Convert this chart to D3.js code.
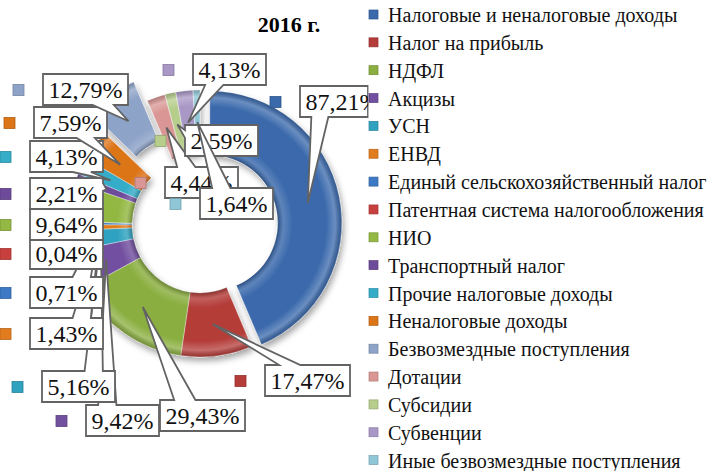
<!DOCTYPE html>
<html>
<head>
<meta charset="utf-8">
<script src="https://cdn.jsdelivr.net/npm/d3@7/dist/d3.min.js"></script>
<style>
body { margin: 0; background: #fff; }
svg { display: block; }
text { font-family: "Liberation Serif", "DejaVu Serif", serif; }
</style>
</head>
<body>
<script>
// данные 2016 г. (доли в %)
var categories = [
    "Налоговые и неналоговые доходы",
    "Налог на прибыль",
    "НДФЛ",
    "Акцизы",
    "УСН",
    "ЕНВД",
    "Единый сельскохозяйственный налог",
    "Патентная система налогообложения",
    "НИО",
    "Транспортный налог",
    "Прочие налоговые доходы",
    "Неналоговые доходы",
    "Безвозмездные поступления",
    "Дотации",
    "Субсидии",
    "Субвенции",
    "Иные безвозмездные поступления"
];
var values = [87.21, 17.47, 29.43, 9.42, 5.16, 1.43, 0.71, 0.04, 9.64, 2.21, 4.13, 7.59, 12.79, 4.44, 2.59, 4.13, 1.64];
var colors = [
    "#3a69ac", "#b43c39", "#8aae3f", "#7250a0", "#2fa2c0", "#e27d1f",
    "#3d79c4", "#c8403d", "#93b843", "#6e4b9a", "#35adc9", "#dc7418",
    "#8ea3c8", "#d99694", "#b6cd8b", "#a998c6", "#8fc7d7"
];
var title = "2016 г.";

var width = 710, height = 471;
var cx = 200, cy = 225, rOut = 132, rIn = 68;
var FONT = "Liberation Serif";

// вынос секторов (px) и положение подписей (левый верхний угол рамки)
var explode = {0: 10, 12: 26, 13: 3, 14: 3, 15: 3, 16: 3};
var labelPos = [
    [300, 86], [265, 365], [160, 400], [86, 405], [42, 371], [30, 318],
    [30, 277], [30, 238], [30, 209], [30, 178], [30, 141], [34, 107],
    [43, 74], [165, 167], [185, 125], [193, 54], [200, 188]
];
var labelW = {0: 68};

var fmt = function(v) { return d3.format(".2f")(v).replace(".", ",") + "%"; };

var data = categories.map(function(c, i) {
    return {name: c, value: values[i], color: colors[i], i: i};
});

var svg = d3.select("body").append("svg")
    .attr("width", width)
    .attr("height", height);

var defs = svg.append("defs");
var shadow = defs.append("filter").attr("id", "shadow")
    .attr("x", "-20%").attr("y", "-20%").attr("width", "140%").attr("height", "140%");
shadow.append("feDropShadow")
    .attr("dx", 2).attr("dy", 4).attr("stdDeviation", 3)
    .attr("flood-color", "#000").attr("flood-opacity", 0.35);

var bevel = defs.append("radialGradient").attr("id", "bevel")
    .attr("gradientUnits", "userSpaceOnUse")
    .attr("cx", 0).attr("cy", 0).attr("r", rOut);
[[rIn / rOut, "#000", 0.25], [0.56, "#fff", 0.18], [0.63, "#fff", 0],
 [0.88, "#fff", 0], [0.95, "#fff", 0.25], [1, "#000", 0.18]].forEach(function(s) {
    bevel.append("stop").attr("offset", s[0]).attr("stop-color", s[1]).attr("stop-opacity", s[2]);
});

var pie = d3.pie().sort(null).value(function(d) { return d.value; });
var arc = d3.arc().innerRadius(rIn).outerRadius(rOut);
var arcs = pie(data);

function offset(a) {
    var e = explode[a.data.i] || 0;
    var m = (a.startAngle + a.endAngle) / 2;
    return [e * Math.sin(m), -e * Math.cos(m)];
}

var donut = svg.append("g")
    .attr("transform", "translate(" + cx + "," + cy + ")")
    .attr("filter", "url(#shadow)");

var slice = donut.selectAll(".slice")
    .data(arcs)
    .enter().append("g")
    .attr("class", "slice")
    .attr("transform", function(a) { var o = offset(a); return "translate(" + o[0] + "," + o[1] + ")"; });

slice.append("path")
    .attr("d", arc)
    .attr("fill", function(a) { return a.data.color; })
    .attr("stroke", "rgba(255,255,255,0.45)")
    .attr("stroke-width", 0.8);
slice.append("path")
    .attr("d", arc)
    .attr("fill", "url(#bevel)");

// title
svg.append("text")
    .attr("x", 289).attr("y", 32)
    .attr("text-anchor", "middle")
    .attr("font-family", FONT)
    .style("font-size", "22px").style("font-weight", "bold")
    .text(title);

// callout path: rectangle with wedge toward the tip (like Office wedgeRectCallout)
function callout(x, y, w, h, tx, ty) {
    var dx = tx - (x + w / 2), dy = ty - (y + h / 2);
    var inside = tx >= x && tx <= x + w && ty >= y && ty <= y + h;
    if (inside) return "M" + x + "," + y + "h" + w + "v" + h + "h" + (-w) + "Z";
    var p;
    if (Math.abs(dx) * h > Math.abs(dy) * w) {
        var b1 = dy < 0 ? y + h * 2 / 12 : y + h * 7 / 12;
        var b2 = dy < 0 ? y + h * 5 / 12 : y + h * 10 / 12;
        if (dx < 0) {
            p = [[x, y], [x + w, y], [x + w, y + h], [x, y + h], [x, b2], [tx, ty], [x, b1]];
        } else {
            p = [[x, y], [x + w, y], [x + w, b1], [tx, ty], [x + w, b2], [x + w, y + h], [x, y + h]];
        }
    } else {
        var a1 = dx < 0 ? x + w * 2 / 12 : x + w * 7 / 12;
        var a2 = dx < 0 ? x + w * 5 / 12 : x + w * 10 / 12;
        if (dy < 0) {
            p = [[x, y], [a1, y], [tx, ty], [a2, y], [x + w, y], [x + w, y + h], [x, y + h]];
        } else {
            p = [[x, y], [x + w, y], [x + w, y + h], [a2, y + h], [tx, ty], [a1, y + h], [x, y + h]];
        }
    }
    return "M" + p.map(function(q) { return q[0] + "," + q[1]; }).join("L") + "Z";
}

var labels = svg.append("g");
var boxH = 31;
arcs.forEach(function(a) {
    var i = a.data.i;
    var c = arc.centroid(a), o = offset(a);
    var tx = cx + c[0] + o[0], ty = cy + c[1] + o[1];
    var bx = labelPos[i][0], by = labelPos[i][1];
    var g = labels.append("g");
    var path = g.append("path")
        .attr("fill", "#fff")
        .attr("stroke", "#636363")
        .attr("stroke-width", 1.8)
        .attr("stroke-linejoin", "miter");
    var t = g.append("text")
        .attr("y", by + boxH / 2 + 8)
        .attr("font-family", FONT)
        .style("font-size", "24px")
        .attr("fill", "#111")
        .text(fmt(a.data.value));
    var bw = labelW[i] || Math.round(t.node().getComputedTextLength() + 11);
    t.attr("x", bx + 5.5);
    path.attr("d", callout(bx, by, bw, boxH, tx, ty));
    // legend key next to label
    g.append("rect")
        .attr("x", bx - 30).attr("y", by + boxH / 2 - 5)
        .attr("width", 11).attr("height", 11)
        .attr("fill", a.data.color)
        .attr("stroke", d3.color(a.data.color).darker(0.6))
        .attr("stroke-width", 0.8);
});

// legend
var legend = svg.append("g");
legend.append("rect")
    .attr("x", 368.5).attr("y", 0)
    .attr("width", width - 368.5).attr("height", height)
    .attr("fill", "#fff");
var item = legend.selectAll(".item")
    .data(data)
    .enter().append("g")
    .attr("class", "item")
    .attr("transform", function(d, i) { return "translate(0," + (22 + i * 27.85) + ")"; });
item.append("rect")
    .attr("x", 369).attr("y", -12)
    .attr("width", 9).attr("height", 9)
    .attr("fill", function(d) { return d.color; })
    .attr("stroke", function(d) { return d3.color(d.color).darker(0.6); })
    .attr("stroke-width", 0.7);
item.append("text")
    .attr("x", 388).attr("y", 0)
    .attr("font-family", FONT)
    .style("font-size", "20px")
    .attr("fill", "#111")
    .text(function(d) { return d.name; });
</script>
</body>
</html>
